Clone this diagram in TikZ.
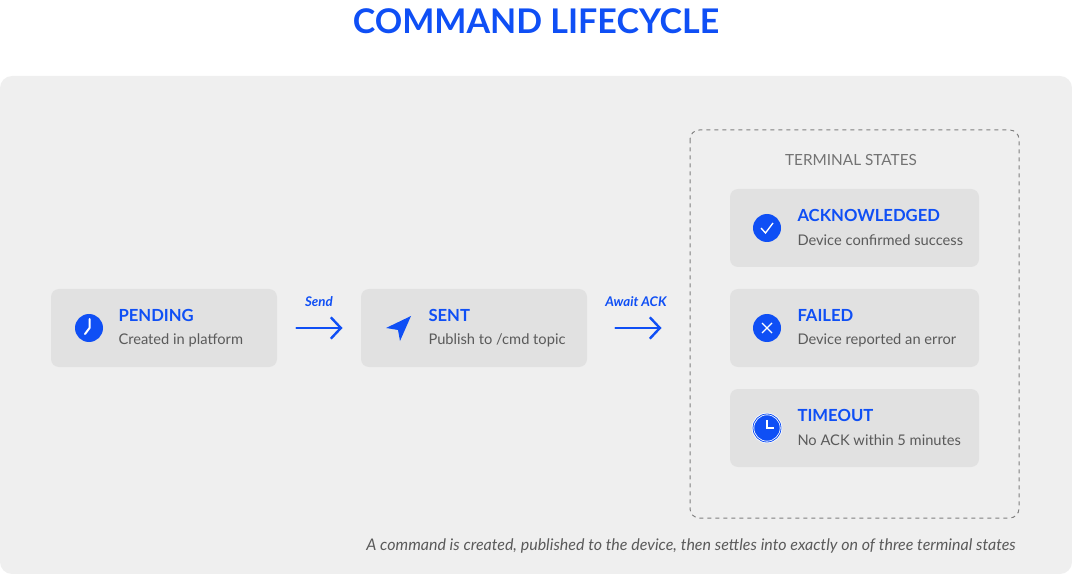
\documentclass[tikz,border=0pt]{standalone}
\usepackage{fontspec}
\setmainfont{Lato}
\usetikzlibrary{positioning,arrows.meta}
\definecolor{cmdblue}{HTML}{0F4FF5}
\definecolor{boxgray}{HTML}{E1E1E1}
\definecolor{bggray}{HTML}{EFEFEF}
\definecolor{txtgray}{HTML}{5A5A5A}
\tikzset{
	state box/.style={fill=boxgray, rounded corners=6, minimum width=169.5pt, minimum height=58.5pt, inner sep=0pt},
	term box/.style={state box, minimum width=186.75pt},
	state icon/.style={circle, fill=cmdblue, minimum size=21pt, inner sep=0pt},
	state title/.style={anchor=west, font=\fontsize{12.5}{13}\selectfont\bfseries, text=cmdblue, inner sep=0pt},
	state sub/.style={anchor=west, font=\fontsize{11}{12}\selectfont, text=txtgray, inner sep=0pt},
	step arrow/.style={-{Straight Barb[length=7.5pt,width=16pt,line width=1.8pt]}, line width=1.8pt, draw=cmdblue, line cap=round},
	step label/.style={font=\fontsize{10}{11}\selectfont\itshape\bfseries, text=cmdblue}}
\tikzset{every picture/.style={line width=0.75pt}}

\begin{document}
\begin{tikzpicture}[x=0.75pt,y=0.75pt,yscale=-1,xscale=1]
	\useasboundingbox (0,0) rectangle (1072,574);

	% background
	\fill [bggray, rounded corners=9] (0,76) rectangle (1072,574);
	\node (title) [font=\fontsize{25.5}{27}\selectfont\bfseries, text=cmdblue] at (536,21) {COMMAND LIFECYCLE};

	% states
	\node (pending) [state box] at (164,328) {};
	\node (sent) [state box] at (474,328) {};

	\node (pendingIcon) [state icon] at (89,328) {};
	\draw [white, line width=1.5pt, line cap=round, line join=miter] (89.5,319) -- (89.5,328) -- (85,334);
	\node (pendingTitle) [state title] at (118,315) {PENDING};
	\node (pendingSub) [state sub] at (118,340) {Created in platform};

	\fill [cmdblue] (386,328) -- (411,316) -- (400,341) -- (398,330) -- cycle;
	\node (sentTitle) [state title] at (428,315) {SENT};
	\node (sentSub) [state sub] at (428,340) {Publish to /cmd topic};

	% arrows
	\draw [step arrow] (pending.east) ++(19,0) coordinate (sendA) -- ++(46,0) coordinate (sendB);
	\node (sendLabel) [step label] at (319,302) {Send};
	\draw [step arrow] (sent.east) ++(28,0) coordinate (ackA) -- ++(46,0) coordinate (ackB);
	\node (ackLabel) [step label] at (636,302) {Await ACK};

	% terminal states
	\draw [gray, dashed, line width=0.75pt, rounded corners=7] (690,130) rectangle (1019,518);
	\node (termHead) [font=\fontsize{11.5}{12}\selectfont, text=txtgray!85] at (851,160) {TERMINAL STATES};

	\node (ack) [term box] at (854.5,228) {};
	\node (ackIcon) [state icon] at (767,228) {};
	\draw [white, line width=1pt] (761,228) -- (765.5,233) -- (773,223);
	\node (ackTitle) [state title] at (797,215) {ACKNOWLEDGED};
	\node (ackSub) [state sub] at (797,240) {Device confirmed success};

	\node (failed) [term box] at (854.5,328) {};
	\node (failedIcon) [state icon] at (767,328) {};
	\draw [white, line width=1pt] (762,323) -- (772,333) (772,323) -- (762,333);
	\node (failedTitle) [state title] at (797,315) {FAILED};
	\node (failedSub) [state sub] at (797,340) {Device reported an error};

	\node (timeout) [term box] at (854.5,428) {};
	\node (timeoutIcon) [state icon, draw=white, line width=0.6pt, double=cmdblue, double distance=0.6pt] at (767,428) {};
	\draw [white, line width=1.2pt] (767,420) -- (767,428) -- (774,428);
	\node (timeoutTitle) [state title] at (797,415) {TIMEOUT};
	\node (timeoutSub) [state sub] at (797,440) {No ACK within 5 minutes};

	% caption
	\node (caption) [anchor=east, font=\fontsize{12}{13}\selectfont\itshape, text=txtgray, inner sep=0pt] at (1016,546) {A command is created, published to the device, then settles into exactly on of three terminal states};
\end{tikzpicture}
\end{document}
